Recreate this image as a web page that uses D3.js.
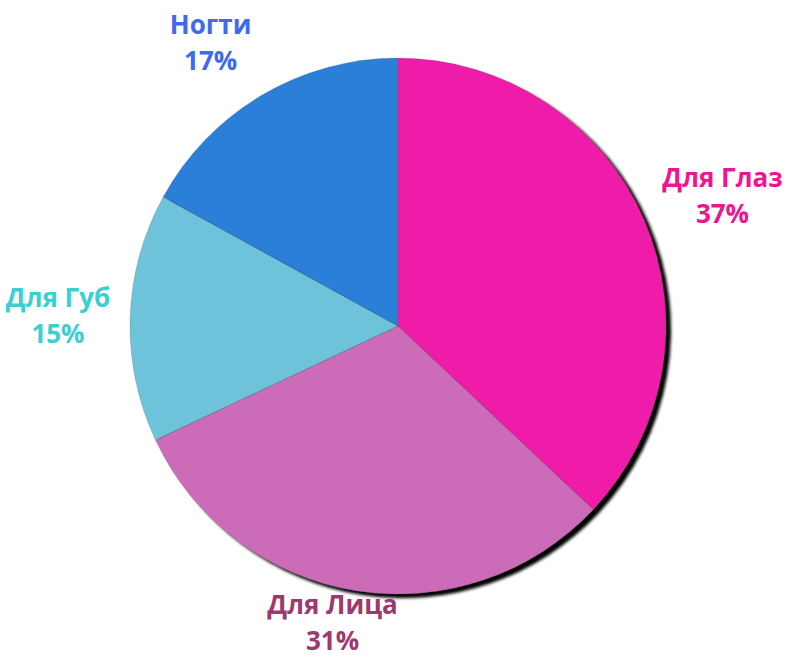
<!DOCTYPE html>
<html>
<head>
<meta charset="utf-8">
<script src="https://cdn.jsdelivr.net/npm/d3@7"></script>
<style>
  body { margin: 0; background: #fff; }
  svg { display: block; }
</style>
</head>
<body>
<svg id="chart" width="788" height="657"></svg>
<script>
// chart data
const categories = ["Для Глаз", "Для Лица", "Для Губ", "Ногти"];
const shares = [37, 31, 15, 17];
const sliceColors = ["#ee1ca8", "#cc6cb9", "#6ec2da", "#2a80d8"];
const labelColors = ["#ee1690", "#9c3a6e", "#3ccfcf", "#3d6af0"];

const width = 788;
const height = 657;
const cx = 398;
const cy = 326;
const radius = 268;

const svg = d3.select("#chart");

// soft black drop shadow to the lower right
const filter = svg.append("defs").append("filter")
  .attr("id", "shadow")
  .attr("x", "-10%").attr("y", "-10%")
  .attr("width", "120%").attr("height", "120%");
filter.append("feGaussianBlur").attr("in", "SourceAlpha").attr("stdDeviation", 1.5).attr("result", "blur");
filter.append("feOffset").attr("in", "blur").attr("dx", 5).attr("dy", 4).attr("result", "off");
const merge = filter.append("feMerge");
merge.append("feMergeNode").attr("in", "off");
merge.append("feMergeNode").attr("in", "SourceGraphic");

const data = categories.map((c, i) => ({ name: c, value: shares[i], color: sliceColors[i], labelColor: labelColors[i] }));

const pie = d3.pie().sort(null).value((d) => d.value);
const arcs = pie(data);

const arc = d3.arc().innerRadius(0).outerRadius(radius);

const g = svg.append("g").attr("transform", `translate(${cx},${cy})`);

g.append("g")
  .attr("filter", "url(#shadow)")
  .selectAll("path")
  .data(arcs)
  .enter()
  .append("path")
  .attr("d", arc)
  .attr("fill", (d) => d.data.color)
  .attr("stroke", "rgba(80,80,80,0.35)")
  .attr("stroke-width", 0.6);

// labels outside the pie: anchor on an ellipse at the mid angle,
// then the text block is hung off that point on the side facing away
const fontSize = 26;
const lineGap = 36;
const capHeight = 0.72 * fontSize;
const descent = 0.22 * fontSize;
const distX = 288;
const distY = 300;
const hangX = 2;
const hangY = 1.05;
const pad = 1;
const total = d3.sum(shares);
const clamp = (v, lo, hi) => Math.max(lo, Math.min(hi, v));

const labels = g.selectAll("g.label")
  .data(arcs)
  .enter()
  .append("g")
  .attr("class", "label")
  .style("font-family", "'Open Sans', 'Liberation Sans', sans-serif")
  .style("font-weight", 700)
  .style("font-size", fontSize + "px")
  .attr("fill", (d) => d.data.labelColor);

labels.append("text").attr("text-anchor", "middle").attr("y", 0).text((d) => d.data.name);
labels.append("text").attr("text-anchor", "middle").attr("y", lineGap)
  .text((d) => Math.round((d.data.value / total) * 100) + "%");

labels.each(function (d) {
  const node = d3.select(this);
  const w = this.getBBox().width;
  const h = capHeight + lineGap;
  const a = (d.startAngle + d.endAngle) / 2;
  const s = Math.sin(a);
  const c = Math.cos(a);
  let tx = distX * s + (w / 2) * clamp(s * hangX, -1, 1);
  let ty = -distY * c - (h / 2) * clamp(c * hangY, -1, 1);
  // keep the block (with descenders) on the page
  tx = clamp(tx, pad - cx + w / 2, width - cx - pad - w / 2);
  ty = clamp(ty, pad - cy + h / 2, height - cy - pad - descent - h / 2);
  // block centre sits (gap - cap)/2 below the first baseline
  node.attr("transform", `translate(${tx},${ty - (lineGap - capHeight) / 2})`);
});
</script>
</body>
</html>
